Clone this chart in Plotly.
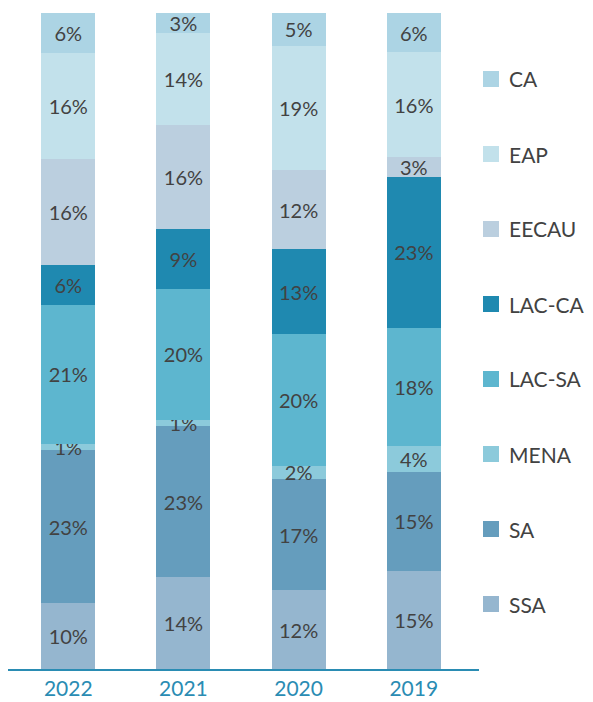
import plotly.graph_objects as go

# ---- data ----
years = ["2022", "2021", "2020", "2019"]
regions = ["SSA", "SA", "MENA", "LAC-SA", "LAC-CA", "EECAU", "EAP", "CA"]  # bottom -> top
ssa = [10, 14, 12, 15]
sa = [23, 23, 17, 15]
mena = [1, 1, 2, 4]
lac_sa = [21, 20, 20, 18]
lac_ca = [6, 9, 13, 23]
eecau = [16, 16, 12, 3]
eap = [16, 14, 19, 16]
ca = [6, 3, 5, 6]
series = [ssa, sa, mena, lac_sa, lac_ca, eecau, eap, ca]
colors = ["#95b6cf", "#659dbd", "#8ccadb", "#5db6cf", "#1f89b0", "#bbcfdf", "#c2e1eb", "#acd4e4"]

FONT = "Lato"
TEXT = "#424242"
TEAL = "#2a8cb3"

W, H = 593, 702
L, R, T, B = 8, 593 - 479, 13, 702 - 669
PW, PH = W - L - R, H - T - B

fig = go.Figure()
for name, vals, col in zip(regions, series, colors):
    fig.add_trace(go.Bar(
        x=years, y=vals, name=name,
        marker=dict(color=col, line=dict(width=0)),
        text=[f"{v}%" for v in vals],
        textposition="inside", insidetextanchor="middle", textangle=0,
        constraintext="none",
        insidetextfont=dict(family=FONT, size=20, color=TEXT),
        hoverinfo="skip", showlegend=False,
    ))

# manual legend (top -> bottom)
shapes, annos = [], []
for i, (name, col) in enumerate(zip(regions[::-1], colors[::-1])):
    yc = 79 + 75 * i
    shapes.append(dict(type="rect", xref="paper", yref="paper",
                       x0=(483 - L) / PW, x1=(499 - L) / PW,
                       y0=(H - B - (yc + 8)) / PH, y1=(H - B - (yc - 8)) / PH,
                       fillcolor=col, line=dict(width=0)))
    annos.append(dict(xref="paper", yref="paper", x=(507 - L) / PW, y=(H - B - yc) / PH,
                      text=name, showarrow=False, xanchor="left", yanchor="middle",
                      font=dict(family=FONT, size=21, color=TEXT)))

fig.update_layout(
    width=W, height=H,
    margin=dict(l=L, r=R, t=T, b=B, pad=0, autoexpand=False),
    barmode="stack", barnorm="percent", bargap=0.531,
    plot_bgcolor="white", paper_bgcolor="white",
    showlegend=False,
    shapes=shapes, annotations=annos,
    uniformtext=dict(mode="show", minsize=20),
    xaxis=dict(type="category", range=[-0.523, 3.566], showline=True, linecolor=TEAL,
               linewidth=2, showgrid=False, ticks="", zeroline=False, automargin=False,
               tickfont=dict(family=FONT, size=21, color=TEAL)),
    yaxis=dict(range=[0, 100], visible=False, showgrid=False, zeroline=False, automargin=False),
)

fig.write_html("out.html", config={"displayModeBar": False},
               post_script="document.body.style.margin='0px';document.body.style.padding='0px';")
